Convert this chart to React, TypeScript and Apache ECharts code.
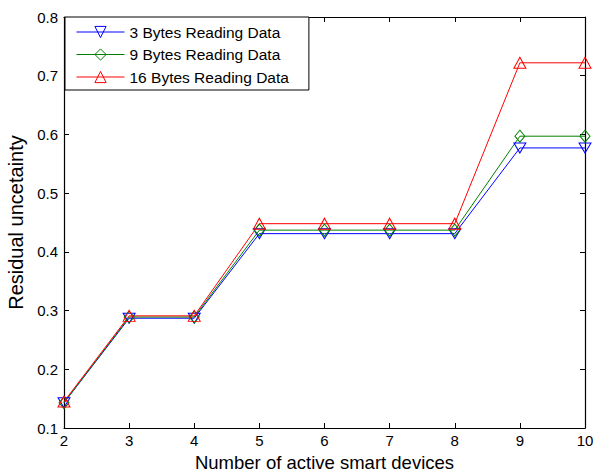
import React, { useEffect, useRef } from "react";
import * as echarts from "echarts";

const xValues = [2, 3, 4, 5, 6, 7, 8, 9, 10];
const bytes3 = [0.143, 0.287, 0.287, 0.431, 0.431, 0.431, 0.431, 0.577, 0.577];
const bytes9 = [0.143, 0.289, 0.289, 0.437, 0.437, 0.437, 0.437, 0.597, 0.597];
const bytes16 = [0.145, 0.291, 0.291, 0.448, 0.448, 0.448, 0.448, 0.722, 0.722];
const seriesNames = ["3 Bytes Reading Data", "9 Bytes Reading Data", "16 Bytes Reading Data"];
const xTitle = "Number of active smart devices";
const yTitle = "Residual uncetainty";

const FONT = "'Liberation Sans', Arial, Helvetica, sans-serif";

export default function App() {
  const ref = useRef<HTMLDivElement>(null);
  useEffect(() => {
    if (!ref.current) return;
    const chart = echarts.init(ref.current, undefined, { renderer: "svg" });
    const toPts = (vals: number[]) => xValues.map((x, i) => [x, vals[i]]);
    const axisLine = { show: true, onZero: false, lineStyle: { color: "#000", width: 1.2 } };
    const tick = { show: true, inside: true, length: 5, lineStyle: { color: "#000", width: 1 } };
    const mk = (name: string, vals: number[], color: string, symbol: string, rotate: number, size: number[]) => ({
      name,
      type: "line",
      data: toPts(vals),
      xAxisIndex: 0,
      yAxisIndex: 0,
      symbol,
      symbolSize: size,
      symbolRotate: rotate,
      showAllSymbol: true,
      lineStyle: { color, width: 1 },
      itemStyle: { color: "rgba(255,255,255,0)", borderColor: color, borderWidth: 1 },
      emphasis: { disabled: true },
    });
    chart.setOption({
      animation: false,
      backgroundColor: "#fff",
      textStyle: { fontFamily: FONT },
      grid: { left: 64, right: 10, top: 17, bottom: 43, containLabel: false, outerBoundsMode: "none" },
      legend: {
        show: true,
        left: 65,
        top: 17,
        orient: "vertical",
        data: seriesNames,
        backgroundColor: "#fff",
        borderColor: "#000",
        borderWidth: 1,
        borderRadius: 0,
        padding: [7, 20, 5, 11],
        itemGap: 6.5,
        itemWidth: 48,
        itemHeight: 14,
        lineStyle: { width: 1 },
        itemStyle: { borderWidth: 1 },
        textStyle: { fontFamily: FONT, fontSize: 15.5, lineHeight: 16, color: "#000" },
        symbolRotate: "inherit",
      },
      xAxis: [
        {
          type: "value",
          min: 2,
          max: 10,
          interval: 1,
          position: "bottom",
          name: xTitle,
          nameLocation: "middle",
          nameGap: 18,
          nameTextStyle: { fontFamily: FONT, fontSize: 18.5, lineHeight: 19, color: "#000" },
          axisLine,
          axisTick: tick,
          axisLabel: { color: "#000", fontSize: 15, fontFamily: FONT, margin: 5 },
          splitLine: { show: false },
        },
        {
          type: "value",
          min: 2,
          max: 10,
          interval: 1,
          position: "top",
          axisLine,
          axisTick: tick,
          axisLabel: { show: false },
          splitLine: { show: false },
        },
      ],
      yAxis: [
        {
          type: "value",
          min: 0.1,
          max: 0.8,
          interval: 0.1,
          position: "left",
          name: yTitle,
          nameLocation: "middle",
          nameGap: 36,
          nameTextStyle: { fontFamily: FONT, fontSize: 20, color: "#000" },
          axisLine,
          axisTick: tick,
          axisLabel: { color: "#000", fontSize: 15, fontFamily: FONT, margin: 6, formatter: (v: number) => v.toFixed(1) },
          splitLine: { show: false },
        },
        {
          type: "value",
          min: 0.1,
          max: 0.8,
          interval: 0.1,
          position: "right",
          axisLine,
          axisTick: tick,
          axisLabel: { show: false },
          splitLine: { show: false },
        },
      ],
      series: [
        mk(seriesNames[0], bytes3, "#0000ff", "triangle", 180, [12, 10]),
        mk(seriesNames[1], bytes9, "#008000", "diamond", 0, [10, 12]),
        mk(seriesNames[2], bytes16, "#ff0000", "triangle", 0, [12, 11]),
      ],
    });
    return () => chart.dispose();
  }, []);
  return <div ref={ref} style={{ width: 595, height: 471, position: "absolute", left: 0, top: 0 }} />;
}
